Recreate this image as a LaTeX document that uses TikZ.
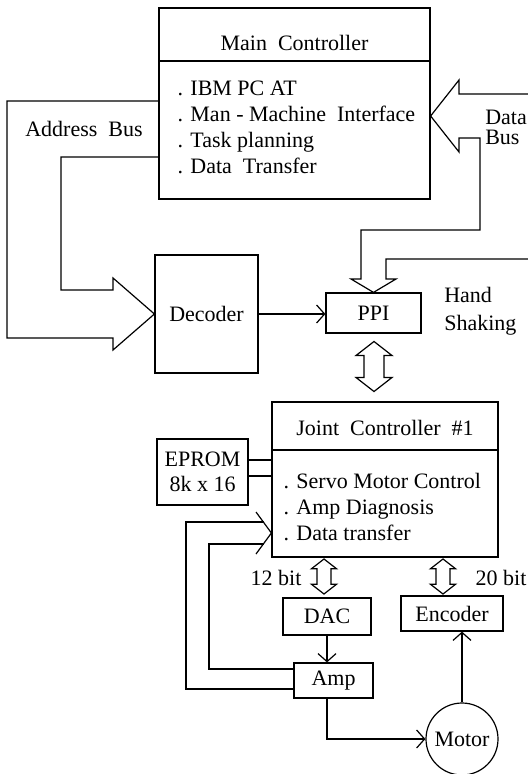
\documentclass[tikz,border=0pt]{standalone}
\usepackage{fontspec}
\setmainfont{Liberation Serif}
\usepackage{tikz}
\usetikzlibrary{positioning,arrows.meta,calc}

\begin{document}
\begin{tikzpicture}[
    x=0.5pt, y=-0.5pt,
    >={Straight Barb[length=4pt,width=9pt]},
    line width=0.6pt,
    every node/.style={font=\fontsize{11}{13}\selectfont},
    blk/.style={draw, inner sep=0pt, align=center, line width=0.6pt},
    lst/.style={anchor=base west, align=left, inner sep=0pt},
    dbus/.pic={\draw (0,-25) -- (18,-11) -- (10,-11) -- (10,11) -- (18,11) -- (0,25)
                 -- (-18,11) -- (-10,11) -- (-10,-11) -- (-18,-11) -- cycle;},
  ]
    \useasboundingbox (0,0) rectangle (528,774);
    % upper half: PC side
    \node[blk, minimum width=135.5pt, minimum height=95.5pt] (main) at (294.5,103.5) {};
    \node (mt) at (294.5,43) {Main\ \ Controller};
    \draw (main.west |- 0,61) -- (main.east |- 0,61);
    \node[lst] (ml) at (177,174) {. IBM PC AT\\. Man - Machine\ \ Interface\\. Task planning\\. Data\ \ Transfer};
    \node[blk, minimum width=51.5pt, minimum height=59pt] (dec) at (206.5,314) {Decoder};
    \node[blk, minimum width=47.5pt, minimum height=20pt] (ppi) at (373.5,313) {PPI};
    \node (ab) at (84,129) {Address\ \ Bus};
    \node[align=left, anchor=west, font=\fontsize{11}{10}\selectfont] (db) at (478,127) {Data\\Bus};
    \node[align=left, anchor=west] (hs) at (437,311) {Hand\\[1pt]Shaking};
    \draw (main.west |- 0,101) -- (7,101) -- (7,338) -- (113,338) -- (113,350) -- (dec.west)
      -- (113,278) -- (113,290) -- (61,290) -- (61,157) -- (main.west |- 0,157);
    \draw (528,94) -- (459,94) -- (459,80) -- (main.east |- 0,116) -- (459,152) -- (459,138)
      -- (480,138) -- (480,230) -- (361,230) -- (361,279) -- (351,279) -- (ppi.north)
      -- (396,279) -- (386,279) -- (386,259) -- (528,259);
    \draw[->] (dec.east) -- (dec.east -| ppi.west);
    \pic at (374,366.5) {dbus};
    % lower half: joint controller
    \node[blk, minimum width=113pt, minimum height=77.5pt] (jc) at (385,479.5) {};
    \node (jt) at (385,428) {Joint\ \ Controller\ \ \#1};
    \draw (jc.west |- 0,450) -- (jc.east |- 0,450);
    \node[lst] (jl) at (283,540) {. Servo Motor Control\\. Amp Diagnosis\\. Data transfer};
    \node[blk, minimum width=45.5pt, minimum height=33pt, font=\fontsize{11}{12.5}\selectfont] (ep) at (202.5,472) {EPROM\\8k x 16};
    \draw (ep.east |- 0,460) -- (jc.west |- 0,460);
    \draw (ep.east |- 0,476) -- (jc.west |- 0,476);
    \node[blk, minimum width=44pt, minimum height=18.5pt] (dac) at (327,616.5) {DAC};
    \node[blk, minimum width=51pt, minimum height=17.5pt] (enc) at (452,613.5) {Encoder};
    \node[blk, minimum width=39.5pt, minimum height=17.5pt] (amp) at (333.5,680.5) {Amp};
    \node[blk, circle, minimum size=36pt] (mot) at (462,739) {Motor};
    \pic[scale=0.7] at (324,576.5) {dbus};
    \pic[scale=0.7] at (443,576.5) {dbus};
    \node (b12) at (276,578) {12 bit};
    \node (b20) at (501,578) {20 bit};
    \draw[->] (dac) -- (dac |- amp.north);
    \draw[->] (amp.south -| dac) |- (mot);
    \draw[->] (mot) -- (mot |- enc.south);
    \draw (amp.west |- 0,689) -- (186,689) -- (186,522) -- (264,522);
    \draw (amp.west |- 0,669) -- (209,669) -- (209,544) -- (264,544);
    \draw (256,512) -- (jc.west |- 0,533) -- (256,554);
\end{tikzpicture}
\end{document}
